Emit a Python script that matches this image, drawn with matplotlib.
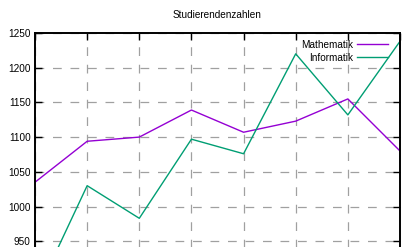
import numpy as np
import matplotlib
matplotlib.use("Agg")
import matplotlib.pyplot as plt

# data
jahre = [2010, 2011, 2012, 2013, 2014, 2015, 2016, 2017]
mathematik = [1035, 1094, 1100, 1139, 1107, 1123, 1155, 1080]
informatik = [870, 1030, 983, 1097, 1076, 1220, 1132, 1238]

plt.rcParams['font.family'] = ['Liberation Sans', 'DejaVu Sans']

fig = plt.figure(figsize=(4.1, 2.47), dpi=100)
# axes reach below the bottom of the picture (reference is cropped)
ax = fig.add_axes([0.0854, -0.2575, 0.8902, 1.1239])

ax.plot(jahre, mathematik, color="#9400d3", lw=1.0, label="Mathematik")
ax.plot(jahre, informatik, color="#009e73", lw=1.0, label="Informatik")

ax.set_xlim(jahre[0], jahre[-1])
ax.set_ylim(850, 1250)
ax.set_xticks(jahre)
ax.set_yticks(np.arange(850, 1251, 50))

ax.grid(True, color="#a0a0a0", lw=0.9, linestyle=(0, (7, 7)))
ax.tick_params(direction="in", length=5, width=1, labelsize=7.2, pad=3,
               top=True, right=True, color="black")
for s in ax.spines.values():
    s.set_linewidth(1.4)

ax.set_title("Studierendenzahlen", fontsize=7.2, pad=11)

leg = ax.legend(loc="upper right", bbox_to_anchor=(0.967, 0.975), frameon=False,
                fontsize=7.2, markerfirst=False, handlelength=3.1,
                handletextpad=0.35, labelspacing=0.3, borderaxespad=0,
                borderpad=0)
for t in leg.get_texts():
    t.set_ha("right")

fig.savefig("out.png", dpi=100)
